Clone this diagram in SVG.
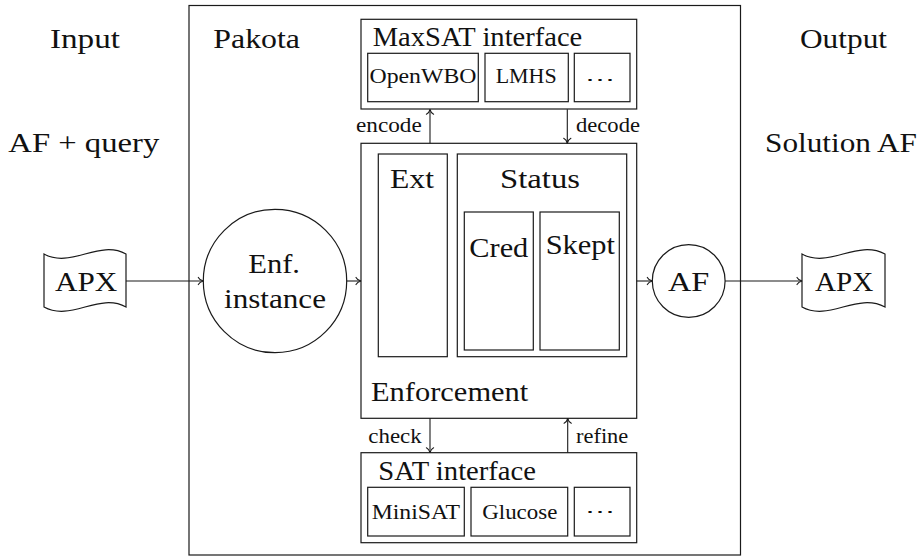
<svg xmlns="http://www.w3.org/2000/svg" width="920" height="557" viewBox="0 0 920 557" font-family="'Liberation Serif', 'Times New Roman', Tinos, serif">
<style>
  rect, circle, .tape { fill: none; stroke: #1a1a1a; stroke-width: 1.2; }
  .bg { fill: #ffffff; stroke: none; }
  text { font-family: 'Liberation Serif', 'Times New Roman', Tinos, serif; fill: #111; }
  .big { font-size: 27px; }
  .small { font-size: 20px; }
  .dots { font-family: 'DejaVu Serif', 'Liberation Serif', serif; font-size: 20px; }
  .conn path { stroke: #1a1a1a; stroke-width: 1.1; fill: none; }
</style>
<defs>
  <marker id="to" markerUnits="userSpaceOnUse" markerWidth="12" markerHeight="12" viewBox="-6 -6 12 12" refX="0" refY="0" orient="auto">
    <path d="M-5,-3.6 C-4,-1.6 -1.6,-0.4 0,0 C-1.6,0.4 -4,1.6 -5,3.6" fill="none" stroke="#1a1a1a" stroke-width="1.1" stroke-linecap="round"/>
  </marker>
</defs>
<rect class="bg" x="0" y="0" width="920" height="557"/>

<g id="labels">
  <text class="big" x="50" y="48" textLength="70" lengthAdjust="spacingAndGlyphs">Input</text>
  <text class="big" x="800" y="48" textLength="87" lengthAdjust="spacingAndGlyphs">Output</text>
  <text class="big" x="8.3" y="152" textLength="151" lengthAdjust="spacingAndGlyphs">AF + query</text>
  <text class="big" x="765" y="152" textLength="152" lengthAdjust="spacingAndGlyphs">Solution AF</text>
</g>

<g id="pakota">
  <rect x="189" y="5.5" width="551.5" height="549.5"/>
  <text class="big" x="213.3" y="48" textLength="86.7" lengthAdjust="spacingAndGlyphs">Pakota</text>
</g>

<g id="maxsat">
  <rect x="361" y="19.3" width="275.7" height="89.7"/>
  <text class="big" x="372.7" y="45.7" textLength="209.6" lengthAdjust="spacingAndGlyphs">MaxSAT interface</text>
  <g id="openwbo">
    <rect x="367.7" y="53.3" width="110.6" height="48.4"/>
    <text class="small" x="369.5" y="83.3" textLength="107" lengthAdjust="spacingAndGlyphs">OpenWBO</text>
  </g>
  <g id="lmhs">
    <rect x="485" y="53.3" width="83.3" height="48.4"/>
    <text class="small" x="495.7" y="83.3" textLength="61" lengthAdjust="spacingAndGlyphs">LMHS</text>
  </g>
  <g id="maxsat-more">
    <rect x="574.3" y="53.3" width="55.7" height="48.4"/>
    <text class="dots" x="585" y="86" textLength="30" lengthAdjust="spacingAndGlyphs">⋯</text>
  </g>
</g>

<g id="enforcement">
  <rect x="361" y="143.3" width="275.7" height="275"/>
  <text class="big" x="371" y="401" textLength="157.3" lengthAdjust="spacingAndGlyphs">Enforcement</text>
  <g id="ext">
    <rect x="378.3" y="154" width="69" height="202.7"/>
    <text class="big" x="390" y="188" textLength="44" lengthAdjust="spacingAndGlyphs">Ext</text>
  </g>
  <g id="status">
    <rect x="457.3" y="154" width="169.4" height="202.7"/>
    <text class="big" x="500" y="188" textLength="80" lengthAdjust="spacingAndGlyphs">Status</text>
  </g>
  <g id="cred">
    <rect x="464.3" y="212" width="69" height="138"/>
    <text class="big" x="469.3" y="256.5" textLength="59" lengthAdjust="spacingAndGlyphs">Cred</text>
  </g>
  <g id="skept">
    <rect x="540" y="212" width="79.3" height="138"/>
    <text class="big" x="545.7" y="253.5" textLength="69.3" lengthAdjust="spacingAndGlyphs">Skept</text>
  </g>
</g>

<g id="sat">
  <rect x="361" y="452.7" width="275.7" height="90"/>
  <text class="big" x="378.3" y="480" textLength="157.7" lengthAdjust="spacingAndGlyphs">SAT interface</text>
  <g id="minisat">
    <rect x="367.7" y="487.3" width="96.6" height="48.7"/>
    <text class="small" x="371.7" y="519" textLength="88.3" lengthAdjust="spacingAndGlyphs">MiniSAT</text>
  </g>
  <g id="glucose">
    <rect x="471" y="487.3" width="96.7" height="48.7"/>
    <text class="small" x="482.3" y="519" textLength="75" lengthAdjust="spacingAndGlyphs">Glucose</text>
  </g>
  <g id="sat-more">
    <rect x="574.3" y="487.3" width="55.7" height="48.7"/>
    <text class="dots" x="585" y="518" textLength="30" lengthAdjust="spacingAndGlyphs">⋯</text>
  </g>
</g>

<g id="enf-instance">
  <circle cx="275" cy="281" r="71.7"/>
  <text class="big" x="248.3" y="273.3" textLength="51.7" lengthAdjust="spacingAndGlyphs">Enf.</text>
  <text class="big" x="224" y="308.3" textLength="102" lengthAdjust="spacingAndGlyphs">instance</text>
</g>

<g id="af">
  <circle cx="688.7" cy="281" r="36.4"/>
  <text class="big" x="668" y="291" textLength="41.3" lengthAdjust="spacingAndGlyphs">AF</text>
</g>

<g id="apx-in">
  <path class="tape" d="M44,254 C71,269 99,239 126,254 L126,307 C99,292 71,322 44,307 Z"/>
  <text class="big" x="55" y="291" textLength="62.3" lengthAdjust="spacingAndGlyphs">APX</text>
</g>

<g id="apx-out">
  <path class="tape" d="M802,254 C829,269 857,239 885,254 L885,307 C857,292 829,322 802,307 Z"/>
  <text class="big" x="815" y="291" textLength="58.3" lengthAdjust="spacingAndGlyphs">APX</text>
</g>

<g class="conn" id="connectors">
  <path d="M126,281 L203.3,281" marker-end="url(#to)"/>
  <path d="M346.7,281 L361,281" marker-end="url(#to)"/>
  <path d="M636.7,281 L652.3,281" marker-end="url(#to)"/>
  <path d="M725.1,281 L802,281" marker-end="url(#to)"/>
  <path d="M430,143.3 L430,109.3" marker-end="url(#to)"/>
  <path d="M567.3,109.3 L567.3,143.3" marker-end="url(#to)"/>
  <path d="M430,418.3 L430,452.7" marker-end="url(#to)"/>
  <path d="M567.7,452.7 L567.7,418.3" marker-end="url(#to)"/>
  <text class="small" x="356" y="132.3" textLength="65.7" lengthAdjust="spacingAndGlyphs">encode</text>
  <text class="small" x="576" y="132.3" textLength="64" lengthAdjust="spacingAndGlyphs">decode</text>
  <text class="small" x="368.3" y="442.7" textLength="53.4" lengthAdjust="spacingAndGlyphs">check</text>
  <text class="small" x="576" y="442.7" textLength="52.3" lengthAdjust="spacingAndGlyphs">refine</text>
</g>
</svg>
